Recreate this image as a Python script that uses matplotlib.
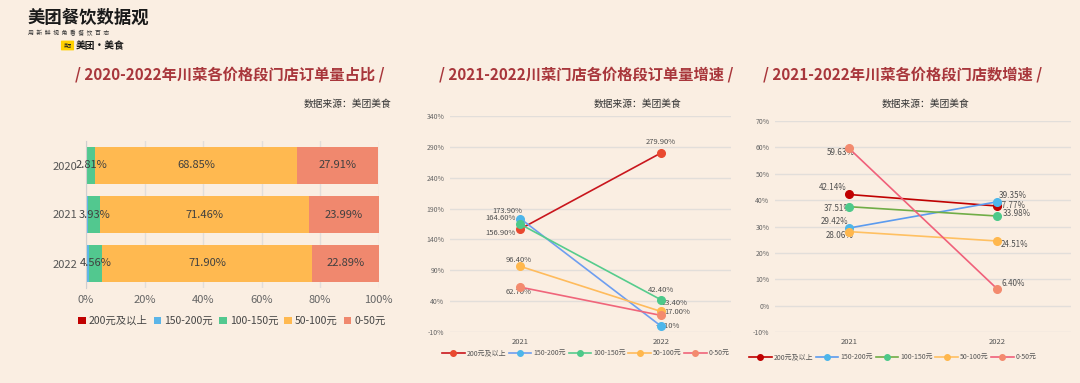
import matplotlib
matplotlib.use("Agg")
import matplotlib.pyplot as plt
from matplotlib.patches import Patch, FancyBboxPatch
from matplotlib.lines import Line2D

plt.rcParams['font.family'] = ['Noto Sans CJK SC', 'DejaVu Sans']

# ---------------- data ----------------
segments = ["200元及以上", "150-200元", "100-150元", "50-100元", "0-50元"]
years_share = ["2020", "2021", "2022"]
share_200 = [0.05, 0.30, 0.40]
share_150 = [0.35, 0.50, 0.55]
share_100 = [2.81, 3.93, 4.56]
share_50 = [68.85, 71.46, 71.90]
share_0 = [27.91, 23.99, 22.89]

years_growth = ["2021", "2022"]
order_200 = [156.90, 279.90]
order_150 = [173.90, -0.10]
order_100 = [164.60, 42.40]
order_50 = [96.40, 23.40]
order_0 = [62.70, 17.00]

store_200 = [42.14, 37.77]
store_150 = [29.42, 39.35]
store_100 = [37.51, 33.98]
store_50 = [28.06, 24.51]
store_0 = [59.63, 6.40]

titles = ["/ 2020-2022年川菜各价格段门店订单量占比 /",
          "/ 2021-2022川菜门店各价格段订单量增速 /",
          "/ 2021-2022年川菜各价格段门店数增速 /"]
source = "数据来源：美团美食"

# ---------------- style ----------------
BG = "#FAEEE2"
W, H = 1080, 383
bar_colors = ["#C00000", "#5BB5E8", "#52C88F", "#FFB950", "#F0886E"]
grid_c = "#E2DEDA"
title_c = "#A8363B"

fig = plt.figure(figsize=(W / 100, H / 100), dpi=100, facecolor=BG)


def px_axes(x0, y0, x1, y1):
    return fig.add_axes([x0 / W, 1 - y1 / H, (x1 - x0) / W, (y1 - y0) / H])


# ---------------- logo ----------------
fig.text(28 / W, 1 - 18 / H, "美团餐饮数据观", fontsize=12.5, fontweight="bold",
         color="#1A1A1A", va="center", ha="left")
fig.text(28 / W, 1 - 33 / H, "用  新  鲜  视  角  看  餐  饮  百  态", fontsize=4.2,
         color="#333333", va="center", ha="left")
fig.patches.append(FancyBboxPatch((62 / W, 1 - 50 / H), 11 / W, 9 / H,
                                  boxstyle="round,pad=0.001", transform=fig.transFigure,
                                  facecolor="#FFD100", edgecolor="none"))
fig.text(67.5 / W, 1 - 45.5 / H, "美团", fontsize=3, color="#222222",
         va="center", ha="center")
fig.text(76 / W, 1 - 45.5 / H, "美团·美食", fontsize=7, fontweight="bold",
         color="#1A1A1A", va="center", ha="left")

# ---------------- titles ----------------
for cx, t in zip([230, 586, 903], titles):
    fig.text(cx / W, 1 - 74 / H, t, fontsize=11, fontweight="bold", color=title_c,
             ha="center", va="center")
for cx in [347, 637, 925]:
    fig.text(cx / W, 1 - 104 / H, source, fontsize=7, color="#333333",
             ha="center", va="center")

# ---------------- chart 1: stacked bar ----------------
ax1 = px_axes(86, 141, 378.5, 288)
ax1.set_facecolor(BG)
ypos = list(range(len(years_share)))
series = [share_200, share_150, share_100, share_50, share_0]
left = [0.0] * len(years_share)
for i, vals in enumerate(series):
    ax1.barh(ypos, vals, left=left, height=0.75, color=bar_colors[i],
             edgecolor="none", zorder=3)
    if i >= 2:
        for j, v in enumerate(vals):
            ax1.text(left[j] + v / 2, ypos[j], f"{v:.2f}%", ha="center", va="center",
                     fontsize=8, color="#404040", zorder=5)
    left = [l + v for l, v in zip(left, vals)]
ax1.set_xlim(0, 100)
ax1.set_ylim(2.5, -0.5)
ax1.set_yticks(ypos)
ax1.set_yticklabels(years_share, fontsize=8, color="#555555")
ax1.set_xticks([0, 20, 40, 60, 80, 100])
ax1.set_xticklabels([f"{v}%" for v in [0, 20, 40, 60, 80, 100]], fontsize=8, color="#666666")
ax1.tick_params(axis="both", length=0, pad=5)
ax1.tick_params(axis="y", pad=6)
ax1.grid(axis="x", color=grid_c, linewidth=1, zorder=0)
for s in ["top", "right", "bottom"]:
    ax1.spines[s].set_visible(False)
ax1.spines["left"].set_color("#CFCFCF")
ax1.spines["left"].set_zorder(4)

handles1 = [Patch(facecolor=c, edgecolor="none") for c in bar_colors]
fig.legend(handles1, segments, loc="center", bbox_to_anchor=(232 / W, 1 - 321 / H),
           ncol=5, frameon=False, fontsize=7.5, handlelength=0.7, handleheight=0.7,
           handletextpad=0.3, columnspacing=0.6, labelcolor="#444444")


# ---------------- line charts ----------------
def line_chart(ax, data, line_cols, mark_cols, offsets, ylim, yticks, lab_fs):
    ax.set_facecolor(BG)
    xs = list(range(len(years_growth)))
    for k, vals in enumerate(data):
        ax.plot(xs, vals, color=line_cols[k], linewidth=1.2, zorder=3,
                marker="o", markersize=5.5, markerfacecolor=mark_cols[k],
                markeredgecolor=mark_cols[k])
        for j, v in enumerate(vals):
            dx, dy, ha = offsets[k][j]
            ax.annotate(f"{v:.2f}%", (xs[j], v), textcoords="offset pixels",
                        xytext=(dx, dy), ha=ha, va="center", fontsize=lab_fs,
                        color="#505050", zorder=2)
    ax.set_xlim(-0.5, 1.5)
    ax.set_ylim(*ylim)
    ax.set_yticks(yticks)
    ax.set_yticklabels([f"{v}%" for v in yticks], fontsize=5, color="#666666")
    ax.set_xticks(xs)
    ax.set_xticklabels(years_growth, fontsize=5.5, color="#555555")
    ax.tick_params(axis="both", length=0, pad=4)
    ax.grid(axis="y", color=grid_c, linewidth=1, zorder=0)
    for s in ["top", "right", "left", "bottom"]:
        ax.spines[s].set_visible(False)


def line_legend(cx, cy, line_cols, mark_cols):
    hs = [Line2D([0], [0], color=lc, linewidth=1.2, marker="o", markersize=4,
                 markerfacecolor=mc, markeredgecolor=mc)
          for lc, mc in zip(line_cols, mark_cols)]
    fig.legend(hs, segments, loc="center", bbox_to_anchor=(cx / W, 1 - cy / H),
               ncol=5, frameon=False, fontsize=5, handlelength=3.2,
               handletextpad=0.3, columnspacing=0.4, labelcolor="#555555")


# chart 2
lc2 = ["#C9161D", "#6E9EF0", "#56CC8D", "#FFBB5C", "#F0657A"]
mc2 = ["#E9492F", "#4DB6EA", "#4DC98A", "#FFB74D", "#F38A6E"]
off2 = [[(-5, -4, "right"), (0, 11, "center")],
        [(2, 8, "right"), (-5, 0, "left")],
        [(-4, 6, "right"), (0, 10, "center")],
        [(-2, 6, "center"), (1, 8, "left")],
        [(-2, -5, "center"), (4, 3, "left")]]
ax2 = px_axes(450, 116, 731, 332)
line_chart(ax2, [order_200, order_150, order_100, order_50, order_0], lc2, mc2, off2,
           (-10, 340), [-10, 40, 90, 140, 190, 240, 290, 340], 5.5)
line_legend(586, 353, lc2, mc2)

# chart 3
lc3 = ["#C00000", "#5B9BEF", "#70AD47", "#FFC062", "#F0607A"]
mc3 = ["#C00000", "#4DB6EA", "#4DC98A", "#FFB74D", "#F38A6E"]
off3 = [[(-2, 7, "right"), (1, 1, "left")],
        [(-1, 7, "right"), (2, 6, "left")],
        [(3, -2, "right"), (6, 3, "left")],
        [(5, -4, "right"), (4, -4, "left")],
        [(6, -4, "right"), (5, 5, "left")]]
ax3 = px_axes(775, 121, 1071, 332)
line_chart(ax3, [store_200, store_150, store_100, store_50, store_0], lc3, mc3, off3,
           (-10, 70), [-10, 0, 10, 20, 30, 40, 50, 60, 70], 5.8)
line_legend(893, 357, lc3, mc3)

fig.savefig("out.png", dpi=100, facecolor=BG)
